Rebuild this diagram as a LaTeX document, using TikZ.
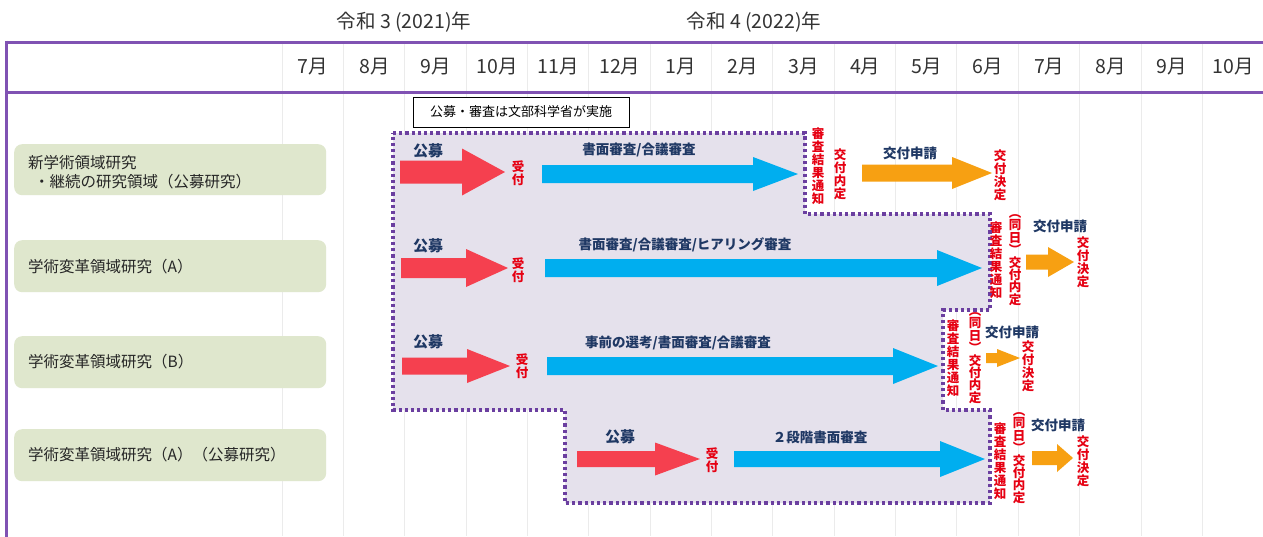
\documentclass[tikz,border=0pt]{standalone}
\usepackage{fontspec}
\setmainfont{Noto Sans CJK JP}
\definecolor{navy}{HTML}{1F3864}
\definecolor{rtext}{HTML}{E60012}
\definecolor{rarrow}{HTML}{F5404F}
\definecolor{barrow}{HTML}{00AEEF}
\definecolor{oarrow}{HTML}{F7A012}
\definecolor{lgreen}{HTML}{DFE7CD}
\definecolor{lav}{HTML}{E5E1EC}
\definecolor{framec}{HTML}{8052B3}
\definecolor{dotc}{HTML}{6B3FA0}
\definecolor{gridc}{HTML}{EBEBEB}
\newcommand\blockarrow[7]{\fill[#7] (#1,#3-#4) -- (#2-#6,#3-#4) -- (#2-#6,#3-#5) -- (#2,#3) -- (#2-#6,#3+#5) -- (#2-#6,#3+#4) -- (#1,#3+#4) -- cycle;}
\newcommand\dojitsu{︵\\同\\日\\︶\\交\\付\\内\\定}
\tikzset{
 hdr/.style={font=\fontsize{19.5}{22}\selectfont, text=black!80, inner sep=0pt},
 lbl/.style={font=\bfseries\fontsize{13.5}{15}\selectfont, text=navy, inner sep=0pt},
 lblbig/.style={font=\bfseries\fontsize{15}{17}\selectfont, text=navy, inner sep=0pt},
 vred/.style={font=\bfseries\fontsize{12.5}{13}\selectfont, text=rtext, align=center, inner sep=0pt},
 vpar/.style={font=\bfseries\fontsize{12.5}{12.4}\selectfont, text=rtext, align=center, inner sep=0pt},
 rowbox/.style={fill=lgreen, rounded corners=8pt, draw=none, anchor=north west, minimum width=312pt, inner sep=0pt},
 rowtxt/.style={font=\fontsize{15.5}{19}\selectfont, text=black!85, anchor=west, align=left, inner sep=0pt},
 dotline/.style={draw=dotc, line width=3.2pt, dash pattern=on 3.2pt off 3pt},
}
\begin{document}
\begin{tikzpicture}[x={(1pt,0)}, y={(0,-1pt)}]
\useasboundingbox (0,0) rectangle (1263,536);
\clip (0,0) rectangle (1263,536);
\fill[white] (0,0) rectangle (1263,536);
% grid
\foreach \i in {0,...,16} \draw[gridc, line width=0.8pt] (282+61.35*\i,42) -- (282+61.35*\i,536);
% years
\node[hdr] (y3) at (404,22) {令和 3 (2021)年};
\node[hdr] (y4) at (754,22) {令和 4 (2022)年};
% months
\foreach \m [count=\i from 0] in {7,8,9,10,11,12,1,2,3,4,5,6,7,8,9,10}
  \node[hdr] (m\i) at (313+61.35*\i,67) {{\m}月};
% lavender region
\fill[lav] (393,133) -- (805,133) -- (805,214) -- (990,214) -- (990,310) -- (943,310) -- (943,410) -- (990,410) -- (990,503) -- (565,503) -- (565,410) -- (393,410) -- cycle;
\draw[dotline] (393,133) -- (805,133) -- (805,214) -- (990,214) -- (990,310) -- (943,310) -- (943,410) -- (990,410) -- (990,503) -- (565,503) -- (565,410) -- (393,410) -- cycle;
% row boxes
\node[rowbox, minimum height=51pt] (r1) at (14,144) {};
\node[rowbox, minimum height=52pt] (r2) at (14,240) {};
\node[rowbox, minimum height=52pt] (r3) at (14,336) {};
\node[rowbox, minimum height=52pt] (r4) at (14,429) {};
\node[rowtxt] (r1t) at (28,172) {新学術領域研究\\\hspace{6pt}・継続の研究領域（公募研究）};
\node[rowtxt] (r2t) at (28,267) {学術変革領域研究（A）};
\node[rowtxt] (r3t) at (28,362) {学術変革領域研究（B）};
\node[rowtxt] (r4t) at (28,455) {学術変革領域研究（A）（公募研究）};
% note box
\node[draw=black, line width=0.8pt, fill=white, minimum width=216pt, minimum height=30pt, inner sep=0pt, font=\fontsize{13}{15}\selectfont] (note) at (521,112) {公募・審査は文部科学省が実施};
% Row 1
\blockarrow{400}{505}{172}{11.5}{23.5}{43}{rarrow}
\blockarrow{542}{798}{174}{9}{17}{45}{barrow}
\blockarrow{862}{992}{173}{8.5}{16}{40}{oarrow}
\node[lblbig] (k1) at (428,151) {公募};
\node[vred] (u1) at (518,173) {受\\付};
\node[lbl] (s1) at (639,150) {書面審査/合議審査};
\node[vred] (t1) at (818,166) {審\\査\\結\\果\\通\\知};
\node[vred] (n1) at (840,174) {交\\付\\内\\定};
\node[lbl] (a1) at (910,153) {交付申請};
\node[vred] (d1) at (1000,175) {交\\付\\決\\定};
% Row 2
\blockarrow{401}{508}{268}{10}{19}{42}{rarrow}
\blockarrow{545}{982}{268}{9}{18}{45}{barrow}
\blockarrow{1026}{1074}{262}{7.5}{15}{26}{oarrow}
\node[lblbig] (k2) at (428,246) {公募};
\node[vred] (u2) at (518,270) {受\\付};
\node[lbl] (s2) at (685,245) {書面審査/合議審査/ヒアリング審査};
\node[vred] (t2) at (996,260) {審\\査\\結\\果\\通\\知};
\node[vpar] (n2) at (1015,260) {\dojitsu};
\node[lbl] (a2) at (1060,226) {交付申請};
\node[vred] (d2) at (1083,262) {交\\付\\決\\定};
% Row 3
\blockarrow{402}{510}{366}{8.5}{17}{43}{rarrow}
\blockarrow{547}{938}{366}{9}{18}{45}{barrow}
\blockarrow{986}{1020}{358}{5}{9}{23}{oarrow}
\node[lblbig] (k3) at (428,342) {公募};
\node[vred] (u3) at (522,366) {受\\付};
\node[lbl] (s3) at (678,343) {事前の選考/書面審査/合議審査};
\node[vred] (t3) at (953,358) {審\\査\\結\\果\\通\\知};
\node[vpar] (n3) at (975,358) {\dojitsu};
\node[lbl] (a3) at (1012,332) {交付申請};
\node[vred] (d3) at (1028,366) {交\\付\\決\\定};
% Row 4
\blockarrow{577}{700}{459}{8}{16.5}{45}{rarrow}
\blockarrow{734}{985}{459}{8}{18}{45}{barrow}
\blockarrow{1032}{1073}{458}{7}{14}{16}{oarrow}
\node[lblbig] (k4) at (620,437) {公募};
\node[vred] (u4) at (712,460) {受\\付};
\node[lbl] (s4) at (820,437) {２段階書面審査};
\node[vred] (t4) at (1000,461) {審\\査\\結\\果\\通\\知};
\node[vpar] (n4) at (1019,458) {\dojitsu};
\node[lbl] (a4) at (1058,425) {交付申請};
\node[vred] (d4) at (1083,461) {交\\付\\決\\定};
% frame
\draw[framec, line width=3pt] (6,42) -- (1270,42);
\draw[framec, line width=3pt] (6,92) -- (1270,92);
\draw[framec, line width=3pt] (6,40.5) -- (6,540);
\end{tikzpicture}
\end{document}
